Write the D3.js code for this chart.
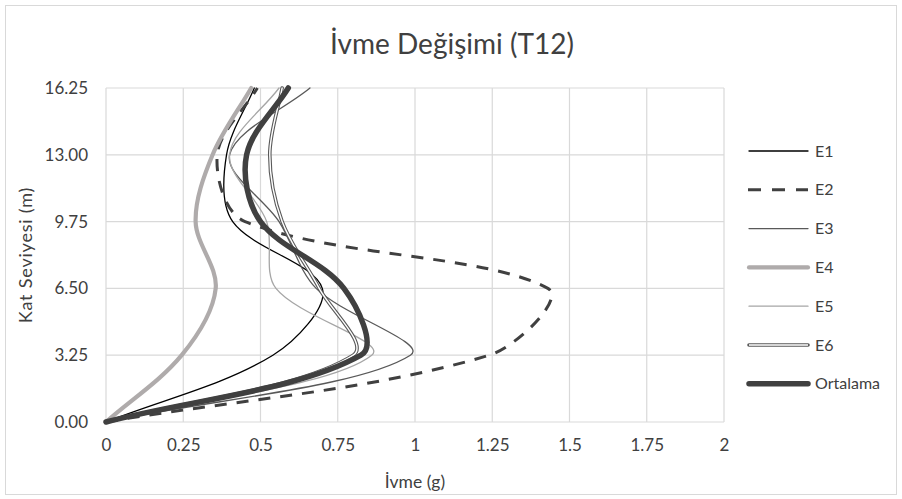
<!DOCTYPE html>
<html>
<head>
<meta charset="utf-8">
<script src="https://cdn.jsdelivr.net/npm/d3@7"></script>
<style>
  html, body { margin: 0; padding: 0; background: #ffffff; }
  svg { display: block; }
  text { font-family: Lato, "Open Sans", sans-serif; fill: #404040; }
</style>
</head>
<body>
<svg id="chart" width="902" height="499"></svg>
<script>
// Floor heights (m) and peak floor accelerations (g) per record
const heights = [0, 3.25, 6.5, 9.75, 13, 16.25];
const E1 = [0, 0.54, 0.70, 0.41, 0.39, 0.48];
const E2 = [0, 1.24, 1.43, 0.45, 0.36, 0.49];
const E3 = [0, 0.985, 0.68, 0.56, 0.40, 0.66];
const E4 = [0, 0.245, 0.355, 0.29, 0.345, 0.47];
const E5 = [0, 0.86, 0.55, 0.52, 0.40, 0.56];
const E6 = [0, 0.80, 0.69, 0.57, 0.53, 0.57];
const Ortalama = [0, 0.825, 0.77, 0.50, 0.455, 0.59];

const seriesNames = ["E1", "E2", "E3", "E4", "E5", "E6", "Ortalama"];
const xTicks = [0, 0.25, 0.5, 0.75, 1, 1.25, 1.5, 1.75, 2];
const yTicks = [0, 3.25, 6.5, 9.75, 13, 16.25];
const title = "İvme Değişimi (T12)";
const xTitle = "İvme (g)";
const yTitle = "Kat Seviyesi (m)";

const styles = {
  E1: { color: "#000000", width: 1.3 },
  E2: { color: "#404040", width: 3, dash: "12,10" },
  E3: { color: "#595959", width: 1.3 },
  E4: { color: "#afabab", width: 4.2 },
  E5: { color: "#a6a6a6", width: 1.3 },
  E6: { color: "#595959", width: 3.6, double: true },
  Ortalama: { color: "#404040", width: 5.5 }
};

const valuesByName = { E1, E2, E3, E4, E5, E6, Ortalama };

// Smoothed line: cubic Bezier segments whose control arms follow the
// neighbouring points, weighted by the lengths of the adjacent chords.
function SmoothChord(context) { this._context = context; }
SmoothChord.prototype = {
  areaStart() { this._line = 0; },
  areaEnd() { this._line = NaN; },
  lineStart() { this._pts = []; },
  point(x, y) { this._pts.push([+x, +y]); },
  lineEnd() {
    const p = this._pts, ctx = this._context, n = p.length;
    if (!n) return;
    const dist = (a, b) => Math.hypot(b[0] - a[0], b[1] - a[1]);
    ctx.moveTo(p[0][0], p[0][1]);
    for (let i = 0; i < n - 1; i++) {
      const a = p[i - 1] || p[i], b = p[i], c = p[i + 1], d = p[i + 2] || p[i + 1];
      const d0 = dist(a, b), d1 = dist(b, c), d2 = dist(c, d);
      const s1 = d0 + d1 > 0 ? 2 * d1 / (d0 + d1) : 0;
      const s2 = d1 + d2 > 0 ? 2 * d1 / (d1 + d2) : 0;
      const c1 = [b[0] + (c[0] - a[0]) / 6 * s1, b[1] + (c[1] - a[1]) / 6 * s1];
      const c2 = [c[0] - (d[0] - b[0]) / 6 * s2, c[1] - (d[1] - b[1]) / 6 * s2];
      ctx.bezierCurveTo(c1[0], c1[1], c2[0], c2[1], c[0], c[1]);
    }
  }
};
const curveSmoothChord = context => new SmoothChord(context);

const svg = d3.select("#chart");
const W = 902, H = 499;
const plot = { left: 106, right: 724, top: 88, bottom: 422 };

// outer chart frame
svg.append("rect")
  .attr("x", 5.5).attr("y", 5.5)
  .attr("width", W - 11).attr("height", H - 10)
  .attr("fill", "#ffffff").attr("stroke", "#d9d9d9").attr("stroke-width", 1);

const x = d3.scaleLinear().domain([0, 2]).range([plot.left, plot.right]);
const y = d3.scaleLinear().domain([0, 16.25]).range([plot.bottom, plot.top]);

// gridlines
const grid = svg.append("g").attr("stroke", "#d9d9d9").attr("stroke-width", 1.2);
grid.selectAll("line.v").data(xTicks).join("line")
  .attr("x1", d => x(d)).attr("x2", d => x(d))
  .attr("y1", plot.top).attr("y2", plot.bottom);
grid.selectAll("line.h").data(yTicks).join("line")
  .attr("x1", plot.left).attr("x2", plot.right)
  .attr("y1", d => y(d)).attr("y2", d => y(d));

// axes (labels only; lines come from the grid)
const xAxis = d3.axisBottom(x).tickValues(xTicks).tickSize(0).tickPadding(17)
  .tickFormat(d => String(d));
const gx = svg.append("g").attr("transform", `translate(0,${plot.bottom})`).call(xAxis);
gx.select(".domain").remove();
gx.selectAll("text").attr("font-size", 17).attr("fill", "#404040")
  .style("font-family", "Lato, sans-serif");

const yAxis = d3.axisLeft(y).tickValues(yTicks).tickSize(0).tickPadding(18)
  .tickFormat(d3.format(".2f"));
const gy = svg.append("g").attr("transform", `translate(${plot.left},0)`).call(yAxis);
gy.select(".domain").remove();
gy.selectAll("text").attr("font-size", 17).attr("fill", "#404040")
  .style("font-family", "Lato, sans-serif");

// series lines
const line = d3.line()
  .x(d => x(d[0])).y(d => y(d[1]))
  .curve(curveSmoothChord);

const lines = svg.append("g").attr("fill", "none")
  .attr("stroke-linecap", "round").attr("stroke-linejoin", "round");

seriesNames.forEach(name => {
  const st = styles[name];
  const pts = valuesByName[name].map((v, i) => [v, heights[i]]);
  const p = lines.append("path").datum(pts)
    .attr("d", line)
    .attr("stroke", st.color)
    .attr("stroke-width", st.width);
  if (st.dash) p.attr("stroke-dasharray", st.dash).attr("stroke-linecap", "butt");
  if (st.double) {
    lines.append("path").datum(pts)
      .attr("d", line)
      .attr("stroke", "#ffffff")
      .attr("stroke-width", 1.4);
  }
});

// legend
const legend = svg.append("g");
const legTop = 151, legStep = 38.8;
seriesNames.forEach((name, i) => {
  const st = styles[name];
  const yy = legTop + i * legStep;
  const l = legend.append("line")
    .attr("x1", 749).attr("x2", 808).attr("y1", yy).attr("y2", yy)
    .attr("stroke", st.color).attr("stroke-width", st.width)
    .attr("stroke-linecap", "round");
  if (st.dash) l.attr("stroke-dasharray", "13,11").attr("stroke-linecap", "butt").attr("x1", 748);
  if (st.double) {
    legend.append("line")
      .attr("x1", 749).attr("x2", 808).attr("y1", yy).attr("y2", yy)
      .attr("stroke", "#ffffff").attr("stroke-width", 1.4);
  }
  legend.append("text")
    .attr("x", 815).attr("y", yy).attr("dy", "0.35em")
    .attr("font-size", 16).text(name);
});

// titles
svg.append("text")
  .attr("x", 452).attr("y", 44).attr("dy", "0.35em")
  .attr("text-anchor", "middle").attr("font-size", 28)
  .text(title);

svg.append("text")
  .attr("x", (plot.left + plot.right) / 2).attr("y", 482).attr("dy", "0.35em")
  .attr("text-anchor", "middle").attr("font-size", 17.5)
  .text(xTitle);

svg.append("text")
  .attr("transform", `translate(26,${(plot.top + plot.bottom) / 2}) rotate(-90)`)
  .attr("dy", "0.35em")
  .attr("text-anchor", "middle").attr("font-size", 18).attr("letter-spacing", 0.8)
  .text(yTitle);
</script>
</body>
</html>
